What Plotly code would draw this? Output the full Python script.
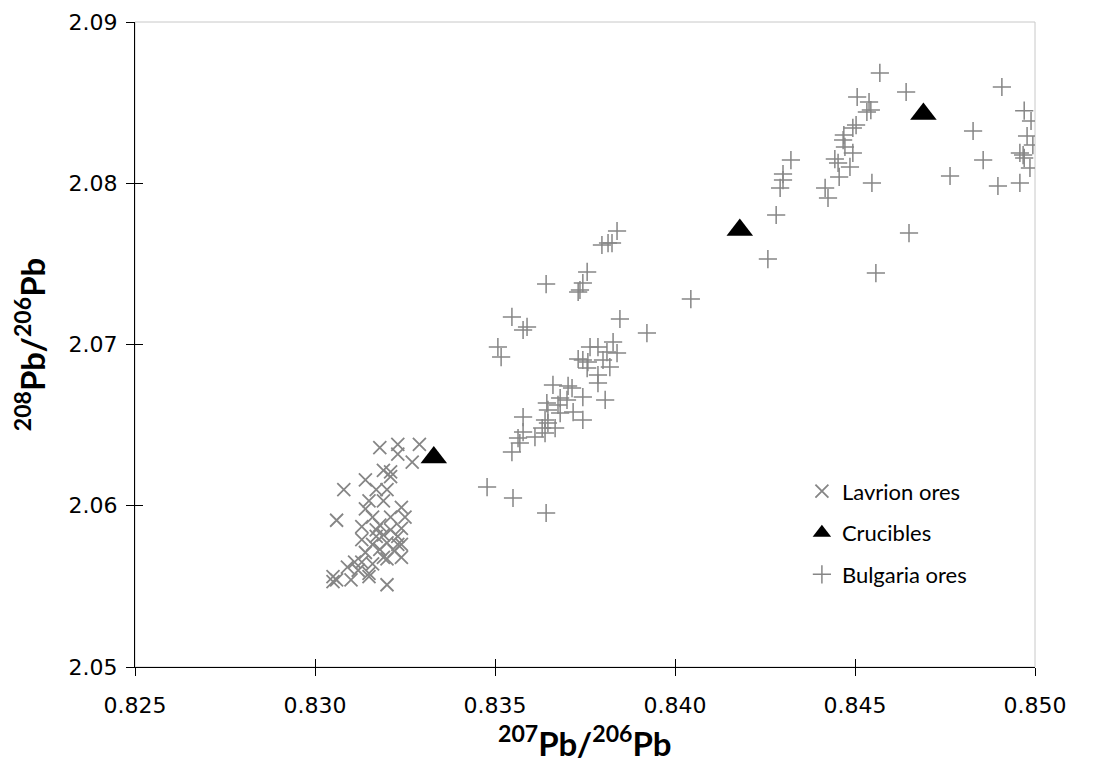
import plotly.graph_objects as go

# Lavrion ores (207Pb/206Pb, 208Pb/206Pb)
lav_x = [0.8318, 0.8323, 0.8329, 0.8323, 0.8327, 0.8319, 0.8321, 0.8321, 0.8314, 0.8308,
         0.8320, 0.8317, 0.8315, 0.8319, 0.8324, 0.8314, 0.8316, 0.8325, 0.8306, 0.8313,
         0.8318, 0.8321, 0.8324, 0.8317, 0.8323, 0.8313, 0.8320, 0.8316, 0.8324, 0.8318,
         0.8322, 0.8314, 0.8324, 0.8320, 0.8311, 0.8313, 0.8309, 0.8312, 0.8315, 0.8305,
         0.8305, 0.8310, 0.8315, 0.8320, 0.8319, 0.8323, 0.8317, 0.8321, 0.8319, 0.8316,
         0.8306]
lav_y = [2.0636, 2.0638, 2.0638, 2.0632, 2.0627, 2.0622, 2.0621, 2.0618, 2.0616, 2.0610,
         2.0610, 2.0610, 2.0603, 2.0603, 2.0599, 2.0598, 2.0593, 2.0593, 2.0591, 2.0587,
         2.0588, 2.0585, 2.0586, 2.0581, 2.0581, 2.0579, 2.0577, 2.0576, 2.0576, 2.0573,
         2.0572, 2.0571, 2.0568, 2.0567, 2.0565, 2.0565, 2.0562, 2.0560, 2.0558, 2.0556,
         2.0553, 2.0554, 2.0556, 2.0551, 2.0582, 2.0576, 2.0585, 2.0593, 2.0568, 2.0564,
         2.0554]

# Crucibles
cru_x = [0.8333, 0.8418, 0.8469]
cru_y = [2.0630, 2.0771, 2.0843]

# Bulgaria ores
bul_x = [0.84569, 0.84642, 0.84506, 0.84539, 0.84533, 0.84544, 0.84503, 0.84494, 0.84469, 0.84467,
         0.84472, 0.84494, 0.84444, 0.84453, 0.84486, 0.84456, 0.84547, 0.84417, 0.84425, 0.84650,
         0.84558, 0.84908, 0.84970, 0.84989, 0.84978, 0.84994, 0.84958, 0.84967, 0.84970, 0.84986,
         0.84958, 0.84897, 0.84828, 0.84856, 0.84764,
         0.84322, 0.84300, 0.84300, 0.84292, 0.84281, 0.84258, 0.84044, 0.83922,
         0.83839, 0.83797, 0.83814, 0.83825, 0.83756, 0.83642, 0.83744, 0.83736, 0.83731, 0.83547,
         0.83847, 0.83589, 0.83578, 0.83508, 0.83517, 0.83828, 0.83764, 0.83786, 0.83839, 0.83811,
         0.83731, 0.83744, 0.83758, 0.83800, 0.83756, 0.83819, 0.83786, 0.83786, 0.83661, 0.83703,
         0.83714, 0.83744, 0.83806, 0.83681, 0.83700, 0.83644, 0.83675, 0.83647, 0.83717, 0.83681,
         0.83578, 0.83744, 0.83639, 0.83647, 0.83631, 0.83667, 0.83578, 0.83611, 0.83564, 0.83569,
         0.83639, 0.83547, 0.83478, 0.83550, 0.83642]
bul_y = [2.08684, 2.08566, 2.08535, 2.08504, 2.08442, 2.08454, 2.08361, 2.08343, 2.08299, 2.08268,
         2.08225, 2.08188, 2.08150, 2.08126, 2.08101, 2.08039, 2.08002, 2.07971, 2.07909, 2.07691,
         2.07443, 2.08597, 2.08450, 2.08386, 2.08293, 2.08237, 2.08188, 2.08175, 2.08157, 2.08095,
         2.08002, 2.07983, 2.08324, 2.08144, 2.08045,
         2.08144, 2.08057, 2.08020, 2.07971, 2.07803, 2.07530, 2.07282, 2.07071,
         2.07704, 2.07617, 2.07629, 2.07629, 2.07450, 2.07375, 2.07381, 2.07338, 2.07326, 2.07171,
         2.07158, 2.07109, 2.07090, 2.06984, 2.06922, 2.07015, 2.06984, 2.06984, 2.06947, 2.06953,
         2.06910, 2.06904, 2.06891, 2.06904, 2.06854, 2.06860, 2.06811, 2.06761, 2.06749, 2.06743,
         2.06730, 2.06674, 2.06656, 2.06668, 2.06656, 2.06637, 2.06625, 2.06594, 2.06581, 2.06575,
         2.06550, 2.06532, 2.06532, 2.06513, 2.06482, 2.06482, 2.06457, 2.06426, 2.06420, 2.06389,
         2.06451, 2.06333, 2.06116, 2.06048, 2.05955]

x_ticks = [0.825, 0.830, 0.835, 0.840, 0.845, 0.850]
y_ticks = [2.05, 2.06, 2.07, 2.08, 2.09]

X_TITLE = "<b><sup>207</sup>Pb/<sup>206</sup>Pb</b>"
Y_TITLE = "<b><sup>208</sup>Pb/<sup>206</sup>Pb</b>"

TICK_FONT = "DejaVu Sans"
FONT = "Lato"
GREY = "#868686"

fig = go.Figure()
fig.add_trace(go.Scatter(
    x=lav_x, y=lav_y, mode="markers", name="Lavrion ores", legendgroup="a",
    marker=dict(symbol="x-thin-open", size=13, color=GREY, line=dict(width=1.8, color=GREY))))
fig.add_trace(go.Scatter(
    x=cru_x, y=cru_y, mode="markers", name="Crucibles", legendgroup="b",
    marker=dict(symbol="triangle-up", size=23, color="black", line=dict(width=0))))
fig.add_trace(go.Scatter(
    x=bul_x, y=bul_y, mode="markers", name="Bulgaria ores", legendgroup="c",
    marker=dict(symbol="cross-thin-open", size=13, color=GREY, line=dict(width=1.5, color=GREY))))

tickfont = dict(family=TICK_FONT, size=22, color="black")
title_font = dict(family=FONT, size=33, color="black")

fig.update_layout(
    width=1080, height=756,
    margin=dict(l=127, r=53, t=14, b=97),
    paper_bgcolor="white", plot_bgcolor="white",
    showlegend=True,
    legend=dict(x=0.741, y=0.305, xanchor="left", yanchor="top",
                font=dict(family=FONT, size=22, color="black"),
                tracegroupgap=10, bgcolor="rgba(0,0,0,0)", itemsizing="trace"),
    xaxis=dict(range=[0.825, 0.850], tickvals=x_ticks, automargin=False,
               ticktext=[f"{v:.3f}" for v in x_ticks],
               showgrid=False, zeroline=False, showline=True, linecolor="black", linewidth=1.3,
               ticks="outside", ticklen=8, tickwidth=1, tickcolor="black",
               ticklabelstandoff=10, tickfont=tickfont),
    yaxis=dict(range=[2.05, 2.09], tickvals=y_ticks, automargin=False,
               ticktext=[f"{v:.2f}" for v in y_ticks],
               showgrid=False, zeroline=False, showline=True, linecolor="black", linewidth=1.3,
               ticks="inside", ticklen=8, tickwidth=1, tickcolor="black",
               ticklabelstandoff=12, tickfont=tickfont,
               title=dict(text=Y_TITLE, font=title_font, standoff=14)),
    xaxis2=dict(range=[0.825, 0.850], overlaying="x", matches="x", tickvals=x_ticks,
                automargin=False,
                showticklabels=False, showgrid=False, zeroline=False, showline=False,
                ticks="inside", ticklen=8, tickcolor="black", tickwidth=1),
    yaxis2=dict(range=[2.05, 2.09], overlaying="y", matches="y", tickvals=y_ticks,
                automargin=False,
                showticklabels=False, showgrid=False, zeroline=False, showline=False,
                ticks="outside", ticklen=8, tickcolor="black", tickwidth=1),
    shapes=[dict(type="rect", xref="paper", yref="paper", x0=0, x1=1, y0=0, y1=1,
                 line=dict(color="#c8c8c8", width=1), layer="below")],
    annotations=[dict(text=X_TITLE, xref="paper", yref="paper", x=0.5, y=-0.114,
                      xanchor="center", yanchor="middle", showarrow=False,
                      font=title_font)],
)
# invisible trace to activate the overlay axes (other half of the cross ticks)
fig.add_trace(go.Scatter(x=[None], y=[None], xaxis="x2", yaxis="y2",
                         showlegend=False, hoverinfo="skip"))

fig.write_html("out.html")
